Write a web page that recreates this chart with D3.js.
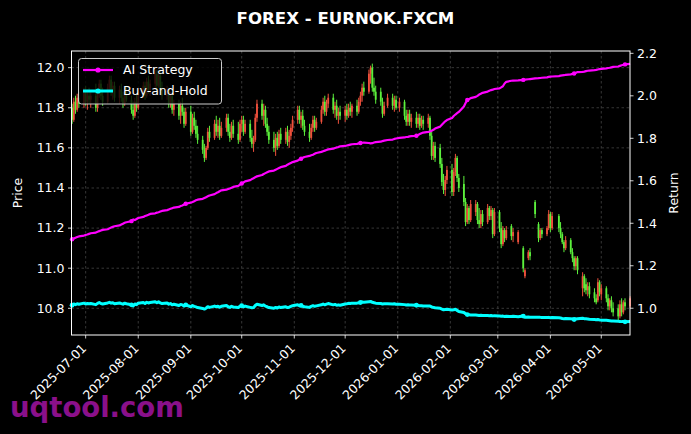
<!DOCTYPE html>
<html><head><meta charset="utf-8">
<script src="https://cdn.jsdelivr.net/npm/d3@7"></script>
<style>html,body{margin:0;padding:0;background:#000;}svg{display:block;}</style>
</head><body>
<svg id="chart" width="691" height="434"></svg>
<script>
// ---------------- DATA ----------------
const title = "FOREX - EURNOK.FXCM";
const startDate = "2025-06-23", endDate = "2026-05-18"; // trading calendar (weekdays)
const xTickLabels = ["2025-07-01","2025-08-01","2025-09-01","2025-10-01","2025-11-01","2025-12-01",
  "2026-01-01","2026-02-01","2026-03-01","2026-04-01","2026-05-01"];
const priceTicks = [10.8, 11.0, 11.2, 11.4, 11.6, 11.8, 12.0];
const returnTicks = [1.0, 1.2, 1.4, 1.6, 1.8, 2.0, 2.2];
const seriesNames = ["AI Strategy", "Buy-and-Hold"];

const opens = [
 11.80,11.74,11.83,11.79,11.85, 11.82,11.88,11.83,11.86,11.84, 11.86,11.80,11.87,11.92,11.86,
 11.83,11.90,11.94,11.88,11.91, 11.85,11.89,11.85,11.82,11.88, 11.84,11.79,11.76,11.83,11.80,
 11.88,11.91,11.86,11.93,11.89, 11.92,11.97,11.91,11.96,11.89, 11.86,11.89,11.82,11.86,11.79,
 11.82,11.76,11.81,11.78,11.72, 11.78,11.68,11.75,11.71,11.67, 11.64,11.59,11.55,11.60,11.68,
 11.65,11.72,11.68,11.71,11.66, 11.70,11.75,11.68,11.65,11.71, 11.67,11.64,11.72,11.74,11.68,
 11.72,11.65,11.62,11.64,11.75, 11.82,11.76,11.79,11.72,11.68, 11.64,11.60,11.65,11.61,11.67,
 11.64,11.68,11.63,11.66,11.70, 11.74,11.79,11.74,11.76,11.71, 11.68,11.65,11.70,11.74,11.70,
 11.73,11.79,11.83,11.78,11.82, 11.85,11.79,11.81,11.76,11.78, 11.76,11.79,11.76,11.80,11.78,
 11.81,11.78,11.83,11.86,11.90, 11.88,11.97,12.00,11.90,11.88, 11.88,11.83,11.77,null,11.81,
 11.85,11.81,11.84,null,11.80, 11.83,11.76,11.73,11.77,11.73, 11.75,11.72,11.75,11.71,11.74,
 11.72,11.75,11.66,11.56,11.61, 11.60,11.52,11.43,11.39,11.44, 11.49,11.38,11.48,11.55,11.45,
 11.42,11.33,11.23,11.30,11.24, 11.28,11.32,11.24,11.22,11.27, 11.23,11.30,11.26,11.29,11.17,
 11.28,11.20,11.12,11.19,11.15, 11.21,11.16,null,null,11.13, 11.10,10.96,null,11.05,11.08,
 11.33,null,11.22,11.15,11.19, 11.17,11.20,11.27,11.20,null, 11.26,11.20,11.17,11.13,11.10,
 11.14,11.08,11.05,11.01,11.05, 10.90,10.96,10.92,10.89,10.91, 10.88,10.85,10.84,10.93,10.87,
 10.90,10.85,10.81,10.84,10.80, 10.80,10.76,10.82,10.78,10.83, 10.81];
const highs = [
 11.82,11.85,11.86,11.87,11.88, 11.90,11.91,11.89,11.90,11.88, 11.92,11.89,11.94,11.94,11.90,
 11.92,11.96,11.96,11.93,11.93, 11.91,11.92,11.88,11.90,11.91, 11.86,11.83,11.85,11.87,11.90,
 11.93,11.93,11.95,11.96,11.94, 11.99,11.99,11.98,11.98,11.93, 11.91,11.90,11.88,11.88,11.84,
 11.84,11.83,11.85,11.80,11.80, 11.81,11.77,11.78,11.74,11.71, 11.66,11.62,11.61,11.70,11.71,
 11.74,11.76,11.74,11.75,11.73, 11.77,11.77,11.72,11.73,11.74, 11.73,11.74,11.76,11.76,11.74,
 11.74,11.69,11.66,11.77,11.84, 11.84,11.82,11.81,11.75,11.71, 11.68,11.67,11.68,11.69,11.70,
 11.70,11.71,11.69,11.72,11.76, 11.81,11.81,11.78,11.79,11.74, 11.72,11.72,11.76,11.76,11.75,
 11.81,11.85,11.86,11.84,11.87, 11.87,11.83,11.84,11.80,11.81, 11.81,11.82,11.82,11.83,11.82,
 11.84,11.85,11.88,11.92,11.93, 11.99,12.01,12.02,11.95,11.91, 11.90,11.85,11.83,null,11.87,
 11.87,11.86,11.86,null,11.85, 11.84,11.79,11.79,11.79,11.77, 11.78,11.77,11.77,11.76,11.76,
 11.77,11.76,11.68,11.63,11.63, 11.62,11.55,11.47,11.46,11.51, 11.52,11.50,11.57,11.56,11.47,
 11.46,11.35,11.32,11.31,11.34, 11.34,11.33,11.30,11.29,11.29, 11.32,11.31,11.31,11.30,11.30,
 11.29,11.23,11.21,11.20,11.21, 11.22,11.20,null,null,11.19, 11.11,11.00,null,11.09,11.10,
 11.34,null,11.23,11.20,11.20, 11.21,11.29,11.28,11.28,null, 11.27,11.23,11.18,11.14,11.16,
 11.15,11.10,11.06,11.06,11.06, 10.98,10.97,10.95,10.93,10.93, 10.90,10.87,10.95,10.94,10.92,
 10.91,10.87,10.85,10.86,10.83, 10.82,10.84,10.85,10.84,10.85, 10.86];
const lows = [
 11.72,11.73,11.77,11.78,11.80, 11.80,11.81,11.79,11.82,11.80, 11.78,11.78,11.85,11.84,11.81,
 11.82,11.88,11.86,11.84,11.83, 11.82,11.83,11.80,11.81,11.83, 11.77,11.74,11.75,11.78,11.79,
 11.85,11.84,11.85,11.87,11.86, 11.90,11.89,11.90,11.87,11.84, 11.84,11.80,11.80,11.77,11.76,
 11.74,11.72,11.76,11.70,11.71, 11.66,11.67,11.69,11.65,11.62, 11.57,11.53,11.54,11.59,11.63,
 11.64,11.66,11.65,11.64,11.65, 11.68,11.66,11.63,11.64,11.65, 11.62,11.63,11.68,11.66,11.67,
 11.63,11.60,11.58,11.63,11.73, 11.74,11.71,11.70,11.66,11.62, 11.58,11.56,11.59,11.60,11.62,
 11.62,11.61,11.60,11.64,11.68, 11.72,11.72,11.70,11.69,11.66, 11.63,11.64,11.68,11.68,11.69,
 11.72,11.77,11.76,11.76,11.80, 11.77,11.75,11.74,11.72,11.74, 11.73,11.74,11.75,11.76,11.75,
 11.76,11.77,11.81,11.83,11.86, 11.87,11.92,11.88,11.86,11.82, 11.81,11.75,11.76,null,11.80,
 11.79,11.78,11.79,null,11.78, 11.74,11.71,11.71,11.71,11.70, 11.70,11.70,11.69,11.70,11.69,
 11.70,11.64,11.54,11.54,11.53, 11.50,11.41,11.37,11.36,11.42, 11.36,11.36,11.46,11.43,11.38,
 11.31,11.21,11.22,11.22,11.23, 11.26,11.22,11.20,11.20,11.21, 11.22,11.24,11.24,11.15,11.16,
 11.18,11.10,11.11,11.13,11.14, 11.14,11.13,null,null,11.12, 10.98,10.95,null,11.04,11.04,
 11.25,null,11.13,11.14,11.15, 11.16,11.19,11.18,11.19,null, 11.18,11.15,11.12,11.08,11.09,
 11.07,11.03,10.99,10.99,10.97, 10.86,10.88,10.87,10.86,10.85, 10.83,10.82,10.83,10.86,10.84,
 10.83,10.79,10.79,10.78,10.76, 10.74,10.75,10.76,10.77,10.79, 10.80];
const closes = [
 11.74,11.83,11.79,11.85,11.82, 11.88,11.83,11.86,11.84,11.86, 11.80,11.87,11.92,11.86,11.83,
 11.90,11.94,11.88,11.91,11.85, 11.89,11.85,11.82,11.88,11.84, 11.79,11.76,11.83,11.80,11.88,
 11.91,11.86,11.93,11.89,11.92, 11.97,11.91,11.96,11.89,11.86, 11.89,11.82,11.86,11.79,11.82,
 11.76,11.81,11.78,11.72,11.78, 11.68,11.75,11.71,11.67,11.64, 11.59,11.55,11.60,11.68,11.65,
 11.72,11.68,11.71,11.66,11.70, 11.75,11.68,11.65,11.71,11.67, 11.64,11.72,11.74,11.68,11.72,
 11.65,11.62,11.64,11.75,11.82, 11.76,11.79,11.72,11.68,11.64, 11.60,11.65,11.61,11.67,11.64,
 11.68,11.63,11.66,11.70,11.74, 11.79,11.74,11.76,11.71,11.68, 11.65,11.70,11.74,11.70,11.73,
 11.79,11.83,11.78,11.82,11.85, 11.79,11.81,11.76,11.78,11.76, 11.79,11.76,11.80,11.78,11.81,
 11.78,11.83,11.86,11.90,11.88, 11.97,12.00,11.90,11.88,11.84, 11.83,11.77,11.81,null,11.85,
 11.81,11.84,11.80,null,11.83, 11.76,11.73,11.77,11.73,11.75, 11.72,11.75,11.71,11.74,11.72,
 11.75,11.66,11.56,11.61,11.55, 11.52,11.43,11.39,11.44,11.49, 11.38,11.48,11.55,11.45,11.40,
 11.33,11.23,11.30,11.24,11.32, 11.32,11.24,11.22,11.27,11.23, 11.30,11.26,11.29,11.17,11.28,
 11.20,11.12,11.19,11.15,11.19, 11.16,11.18,null,null,11.18, 11.00,10.99,null,11.08,11.06,
 11.27,null,11.15,11.19,11.17, 11.20,11.27,11.20,11.26,null, 11.20,11.17,11.13,11.10,11.14,
 11.08,11.05,11.01,11.05,10.99, 10.96,10.90,10.89,10.91,10.87, 10.85,10.83,10.93,10.88,10.90,
 10.85,10.81,10.84,10.80,10.78, 10.76,10.82,10.78,10.83,10.81, 10.85];
const aiReturn = [
 1.325,1.328,1.332,1.335,1.338, 1.342,1.345,1.347,1.350,1.353, 1.356,1.360,1.363,1.366,1.369,
 1.372,1.376,1.380,1.383,1.386, 1.390,1.394,1.398,1.402,1.405, 1.410,1.418,1.415,1.420,1.425,
 1.430,1.434,1.437,1.440,1.444, 1.447,1.450,1.452,1.455,1.458, 1.462,1.465,1.468,1.471,1.474,
 1.477,1.481,1.484,1.488,1.492, 1.497,1.500,1.504,1.508,1.511, 1.515,1.519,1.523,1.527,1.531,
 1.537,1.542,1.546,1.551,1.555, 1.558,1.561,1.564,1.567,1.571, 1.576,1.582,1.587,1.592,1.597,
 1.603,1.608,1.612,1.617,1.621, 1.627,1.632,1.636,1.640,1.644, 1.648,1.652,1.656,1.660,1.664,
 1.670,1.676,1.680,1.684,1.688, 1.695,1.700,1.704,1.708,1.712, 1.717,1.720,1.723,1.727,1.731,
 1.736,1.739,1.742,1.745,1.748, 1.751,1.754,1.757,1.759,1.762, 1.764,1.766,1.768,1.770,1.772,
 1.774,1.776,1.778,1.779,1.780, 1.778,1.776,1.777,1.780,1.782, 1.784,1.787,1.789,null,1.792,
 1.794,1.797,1.799,null,1.802, 1.804,1.806,1.807,1.809,1.810, 1.812,1.816,1.820,1.824,1.827,
 1.830,1.832,1.836,1.840,1.846, 1.855,1.864,1.872,1.880,1.886, 1.896,1.905,1.912,1.918,1.924,
 1.950,1.966,1.980,1.984,1.989, 1.995,2.000,2.006,2.010,2.014, 2.020,2.024,2.027,2.029,2.032,
 2.035,2.040,2.045,2.058,2.066, 2.071,2.072,null,null,2.073, 2.075,2.076,null,2.078,2.079,
 2.082,null,2.083,2.084,2.085, 2.087,2.089,2.090,2.091,null, 2.093,2.095,2.096,2.097,2.099,
 2.101,2.103,2.105,2.108,2.112, 2.113,2.114,2.116,2.118,2.119, 2.121,2.122,2.124,2.126,2.127,
 2.129,2.131,2.132,2.134,2.136, 2.138,2.141,2.144,2.146,2.148, 2.150];
const bhReturn = [
 1.014,1.020,1.017,1.021,1.019, 1.024,1.020,1.022,1.021,1.022, 1.017,1.023,1.027,1.022,1.020,
 1.025,1.028,1.024,1.026,1.021, 1.025,1.022,1.019,1.024,1.021, 1.016,1.011,1.020,1.017,1.024,
 1.027,1.022,1.028,1.025,1.027, 1.031,1.026,1.030,1.025,1.022, 1.025,1.019,1.022,1.016,1.019,
 1.013,1.018,1.016,1.010,1.016, 1.007,1.013,1.009,1.006,1.003, 0.999,0.996,1.000,1.007,1.004,
 1.010,1.007,1.009,1.005,1.009, 1.013,1.007,1.004,1.009,1.006, 1.003,1.010,1.012,1.007,1.010,
 1.004,1.002,1.003,1.013,1.019, 1.013,1.016,1.010,1.007,1.003, 1.000,1.004,1.001,1.006,1.003,
 1.007,1.003,1.005,1.009,1.012, 1.016,1.012,1.013,1.009,1.007, 1.004,1.009,1.012,1.009,1.011,
 1.016,1.020,1.016,1.019,1.022, 1.016,1.018,1.014,1.016,1.014, 1.020,1.021,1.023,1.022,1.024,
 1.024,1.026,1.027,1.029,1.028, 1.031,1.032,1.028,1.026,1.024, 1.022,1.020,1.021,null,1.021,
 1.020,1.021,1.019,null,1.019, 1.017,1.015,1.016,1.015,1.015, 1.014,1.013,1.012,1.012,1.011,
 1.011,1.010,1.006,1.004,1.002, 1.000,0.996,0.993,0.994,0.995, 0.992,0.993,0.995,0.990,0.985,
 0.980,0.974,0.970,0.969,0.968, 0.968,0.967,0.966,0.967,0.966, 0.966,0.965,0.966,0.964,0.965,
 0.964,0.962,0.963,0.961,0.962, 0.961,0.962,null,null,0.960, 0.963,0.958,null,0.959,0.958,
 0.958,null,0.957,0.957,0.956, 0.956,0.957,0.955,0.956,null, 0.955,0.954,0.952,0.951,0.952,
 0.950,0.949,0.947,0.949,0.950, 0.953,0.951,0.950,0.949,0.948, 0.947,0.946,0.947,0.945,0.944,
 0.943,0.942,0.941,0.940,0.940, 0.939,0.938,0.937,0.937,0.936, 0.937];
const markerIdx = [0, 25, 49, 72, 97, 122, 145, 167, 190, 212, 234];

// ---------------- STYLE / LAYOUT ----------------
const W = 691, H = 434;
const L = 71.5, R = 630, T = 51, B = 335;
const FONT = "DejaVu Sans, Liberation Sans, sans-serif";
const C_UP = "#f0503c", C_DN = "#5cf03c", C_AI = "#ff00ff", C_BH = "#00ffff";

const parse = d3.utcParse("%Y-%m-%d");
const dates = d3.utcDays(parse(startDate), d3.utcDay.offset(parse(endDate), 1))
  .filter(d => d.getUTCDay() > 0 && d.getUTCDay() < 6);

const rows = dates.map((d, i) => ({date: d, o: opens[i], h: highs[i], l: lows[i], c: closes[i],
  ai: aiReturn[i], bh: bhReturn[i], mark: markerIdx.includes(i)})).filter(r => r.c != null);

const x = d3.scaleUtc().domain([parse(startDate), parse(endDate)]).range([72.1, 630.1]);
const yP = d3.scaleLinear().domain([10.667, 12.083]).range([B, T]);
const yR = d3.scaleLinear().domain([0.874, 2.211]).range([B, T]);

const svg = d3.select("#chart");
svg.append("rect").attr("width", W).attr("height", H).attr("fill", "#000");

// watermark (under labels)
svg.append("text").attr("x", 10).attr("y", 417).text("uqtool.com")
  .attr("font-family", FONT).attr("font-weight", "bold").attr("font-size", 27.5)
  .attr("fill", "#8a108a");

// grid
const grid = svg.append("g").attr("stroke", "#5a5a5a").attr("stroke-width", 0.6).attr("stroke-dasharray", "2.5,2.5");
xTickLabels.forEach(t => { const xx = x(parse(t)); grid.append("line").attr("x1", xx).attr("x2", xx).attr("y1", T).attr("y2", B); });
priceTicks.forEach(t => { const yy = yP(t); grid.append("line").attr("x1", L).attr("x2", R).attr("y1", yy).attr("y2", yy); });

// candles
const cg = svg.append("g");
rows.forEach(r => {
  const col = r.c >= r.o ? C_UP : C_DN;
  const xx = x(r.date);
  cg.append("line").attr("x1", xx).attr("x2", xx).attr("y1", yP(r.h)).attr("y2", yP(r.l))
    .attr("stroke", col).attr("stroke-width", 1);
  const y0 = yP(Math.max(r.o, r.c)), y1 = yP(Math.min(r.o, r.c));
  cg.append("rect").attr("x", xx - 0.9).attr("width", 1.8).attr("y", y0).attr("height", Math.max(0.8, y1 - y0))
    .attr("fill", col);
});

// return lines
function drawLine(key, color, width, mr) {
  const pts = rows.filter(r => r[key] != null);
  svg.append("path").datum(pts).attr("fill", "none").attr("stroke", color).attr("stroke-width", width)
    .attr("stroke-linejoin", "round")
    .attr("d", d3.line().x(d => x(d.date)).y(d => yR(d[key])));
  svg.append("g").selectAll("circle").data(pts.filter(p => p.mark)).join("circle")
    .attr("cx", d => x(d.date)).attr("cy", d => yR(d[key])).attr("r", mr).attr("fill", color);
}
drawLine("ai", C_AI, 2.2, 2.2);
drawLine("bh", C_BH, 3, 2.4);

// spines
svg.append("rect").attr("x", L).attr("y", T).attr("width", R - L).attr("height", B - T)
  .attr("fill", "none").attr("stroke", "#fff").attr("stroke-width", 1);

// axes
const ax = svg.append("g").attr("font-family", FONT).attr("font-size", 12.5).attr("fill", "#fff");
xTickLabels.forEach(t => {
  const xx = x(parse(t));
  ax.append("line").attr("x1", xx).attr("x2", xx).attr("y1", B).attr("y2", B + 3.5).attr("stroke", "#fff").attr("stroke-width", 0.8);
  ax.append("text").attr("text-anchor", "end").attr("transform", `translate(${xx + 1.5},${B + 14}) rotate(-45)`).text(t);
});
priceTicks.forEach(t => {
  const yy = yP(t);
  ax.append("line").attr("x1", L - 3.5).attr("x2", L).attr("y1", yy).attr("y2", yy).attr("stroke", "#fff").attr("stroke-width", 0.8);
  ax.append("text").attr("x", L - 7).attr("y", yy).attr("dy", "0.35em").attr("text-anchor", "end").text(t.toFixed(1));
});
returnTicks.forEach(t => {
  const yy = yR(t);
  ax.append("line").attr("x1", R).attr("x2", R + 3.5).attr("y1", yy).attr("y2", yy).attr("stroke", "#fff").attr("stroke-width", 0.8);
  ax.append("text").attr("x", R + 7).attr("y", yy).attr("dy", "0.35em").attr("text-anchor", "start").text(t.toFixed(1));
});
ax.append("text").attr("transform", `translate(22,${(T + B) / 2}) rotate(-90)`).attr("text-anchor", "middle").text("Price");
ax.append("text").attr("transform", `translate(678,${(T + B) / 2}) rotate(-90)`).attr("text-anchor", "middle").text("Return");

// title
svg.append("text").attr("x", W / 2).attr("y", 24).attr("text-anchor", "middle")
  .attr("font-family", FONT).attr("font-weight", "bold").attr("font-size", 16.6).attr("fill", "#fff").text(title);

// legend
const lg = svg.append("g");
lg.append("rect").attr("x", 78.5).attr("y", 58.5).attr("width", 143).attr("height", 45.5).attr("rx", 3)
  .attr("fill", "#000").attr("fill-opacity", 0.8).attr("stroke", "#cccccc").attr("stroke-width", 1);
[[seriesNames[0], C_AI, 2.2, 70], [seriesNames[1], C_BH, 3, 91]].forEach(([name, col, w, yy]) => {
  lg.append("line").attr("x1", 83).attr("x2", 113).attr("y1", yy).attr("y2", yy).attr("stroke", col).attr("stroke-width", w);
  lg.append("circle").attr("cx", 98).attr("cy", yy).attr("r", 2.6).attr("fill", col);
  lg.append("text").attr("x", 123).attr("y", yy).attr("dy", "0.35em").attr("font-family", FONT)
    .attr("font-size", 12.5).attr("fill", "#fff").text(name);
});
</script>
</body></html>
